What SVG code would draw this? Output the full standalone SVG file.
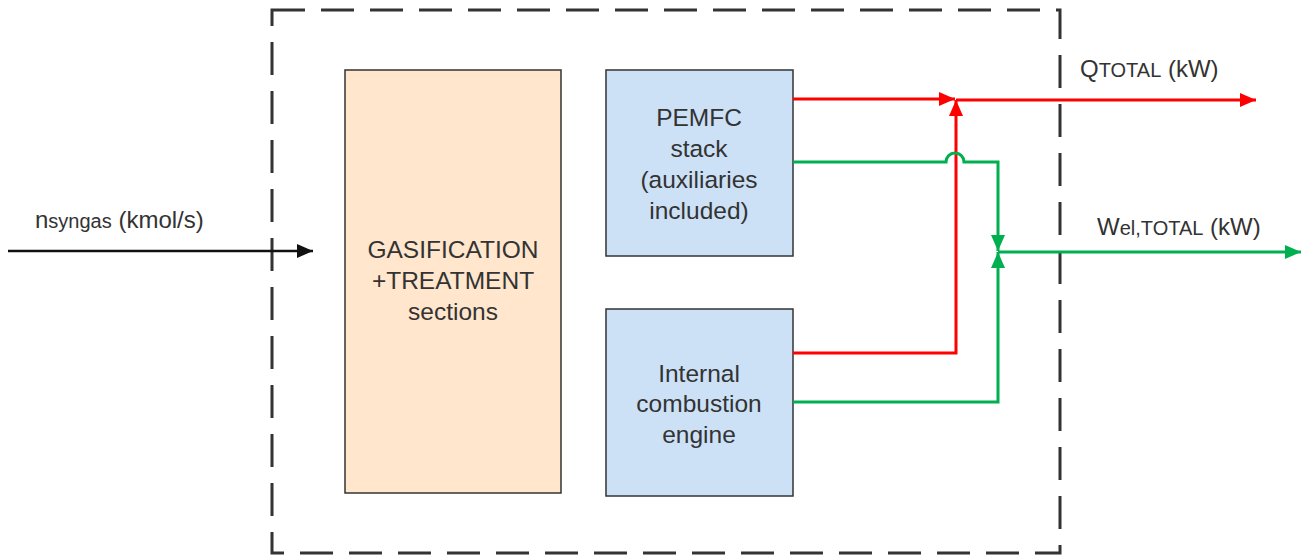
<svg xmlns="http://www.w3.org/2000/svg" width="1307" height="559" viewBox="0 0 1307 559">
  <style>
    .lbl { font-family: "Liberation Sans", Arial, sans-serif; font-size: 24.5px; fill: #333; text-anchor: middle; }
    .io { font-family: "Liberation Sans", Arial, sans-serif; font-size: 24px; fill: #333; }
    .sub { font-size: 20px; }
    .box { stroke: #333; stroke-width: 1.5; }
    .red { fill: none; stroke: #ff0000; stroke-width: 3; }
    .grn { fill: none; stroke: #00b050; stroke-width: 3; }
    .blk { fill: none; stroke: #111; stroke-width: 2.5; }
  </style>
  <defs>
    <marker id="ahRed" viewBox="0 0 16 14" refX="16" refY="7" markerWidth="16" markerHeight="14" markerUnits="userSpaceOnUse" orient="auto">
      <path d="M0,0 L16,7 L0,14 Z" fill="#ff0000"/>
    </marker>
    <marker id="ahGrn" viewBox="0 0 16 14" refX="16" refY="7" markerWidth="16" markerHeight="14" markerUnits="userSpaceOnUse" orient="auto">
      <path d="M0,0 L16,7 L0,14 Z" fill="#00b050"/>
    </marker>
    <marker id="ahBlk" viewBox="0 0 16 14" refX="16" refY="7" markerWidth="16" markerHeight="14" markerUnits="userSpaceOnUse" orient="auto">
      <path d="M0,0 L16,7 L0,14 Z" fill="#111"/>
    </marker>
  </defs>

  <rect width="1307" height="559" fill="#fff"/>

  <!-- system boundary -->
  <g id="boundary">
    <rect x="272" y="10" width="788" height="543" fill="none" stroke="#333" stroke-width="3" stroke-dasharray="33 16"/>
  </g>

  <g id="gasification">
    <rect class="box" x="345" y="70" width="216" height="423" fill="#ffe6cc"/>
    <text class="lbl" x="453" y="258">GASIFICATION</text>
    <text class="lbl" x="453" y="289">+TREATMENT</text>
    <text class="lbl" x="453" y="320">sections</text>
  </g>

  <g id="pemfc">
    <rect class="box" x="606" y="70" width="187" height="186" fill="#cce1f6"/>
    <text class="lbl" x="699" y="126">PEMFC</text>
    <text class="lbl" x="699" y="157">stack</text>
    <text class="lbl" x="699" y="188">(auxiliaries</text>
    <text class="lbl" x="699" y="219">included)</text>
  </g>

  <g id="ice">
    <rect class="box" x="606" y="309" width="187" height="187" fill="#cce1f6"/>
    <text class="lbl" x="699" y="382">Internal</text>
    <text class="lbl" x="699" y="412">combustion</text>
    <text class="lbl" x="699" y="443">engine</text>
  </g>

  <g id="connectors">
    <!-- syngas feed -->
    <path class="blk" d="M8,251 H313" marker-end="url(#ahBlk)"/>
    <!-- heat -->
    <path class="red" d="M793,99 H955" marker-end="url(#ahRed)"/>
    <path class="red" d="M793,353 H956 V100" marker-end="url(#ahRed)"/>
    <path class="red" d="M956,100 H1256" marker-end="url(#ahRed)"/>
    <!-- electric power -->
    <path class="grn" d="M793,162 H946 A8,8 0 0 1 964,162 H998 V251" marker-end="url(#ahGrn)"/>
    <path class="grn" d="M793,402 H998 V252" marker-end="url(#ahGrn)"/>
    <path class="grn" d="M998,252 H1301" marker-end="url(#ahGrn)"/>
  </g>

  <g id="labels">
    <text class="io" x="35" y="228">n<tspan class="sub">syngas</tspan> (kmol/s)</text>
    <text class="io" x="1080" y="77">Q<tspan class="sub">TOTAL</tspan> (kW)</text>
    <text class="io" x="1097" y="235">W<tspan class="sub">el,TOTAL</tspan> (kW)</text>
  </g>
</svg>
